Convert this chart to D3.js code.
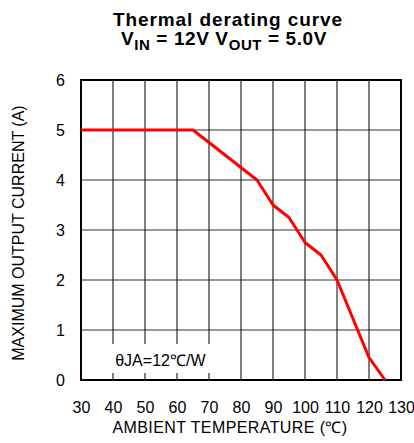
<!DOCTYPE html>
<html>
<head>
<meta charset="utf-8">
<script src="https://cdn.jsdelivr.net/npm/d3@7"></script>
<style>
  body { margin: 0; background: #fff; }
  svg { display: block; font-family: "Liberation Sans", Arial, sans-serif; }
</style>
</head>
<body>
<div id="chart"></div>
<script>
// derating curve
const tempC = [30, 65, 70, 85, 90, 95, 100, 105, 110, 120, 125];
const currentA = [5, 5, 4.75, 4, 3.5, 3.25, 2.75, 2.5, 2, 0.45, 0];
const xTicks = [30, 40, 50, 60, 70, 80, 90, 100, 110, 120, 130];
const yTicks = [0, 1, 2, 3, 4, 5, 6];

const W = 414, H = 443;
const margin = {top: 80, right: 13, bottom: 63, left: 81};
const width = W - margin.left - margin.right;
const height = H - margin.top - margin.bottom;

const svg = d3.select("#chart").append("svg")
  .attr("width", W)
  .attr("height", H);

const g = svg.append("g")
  .attr("transform", "translate(" + margin.left + "," + margin.top + ")");

const x = d3.scaleLinear().domain([30, 130]).range([0, width]);
const y = d3.scaleLinear().domain([0, 6]).range([height, 0]);

// grid
g.selectAll(".hgrid").data(yTicks.slice(1, -1)).enter().append("line")
  .attr("class", "hgrid")
  .attr("x1", 0).attr("x2", width)
  .attr("y1", d => y(d)).attr("y2", d => y(d))
  .attr("stroke", "#777").attr("stroke-width", 1.5);

g.selectAll(".vgrid").data(xTicks.slice(1, -1)).enter().append("line")
  .attr("class", "vgrid")
  .attr("x1", d => x(d)).attr("x2", d => x(d))
  .attr("y1", 0).attr("y2", height)
  .attr("stroke", "#000").attr("stroke-width", 1);

// note box covers the grid behind the text
g.append("rect")
  .attr("x", x(37.5)).attr("y", y(0.72))
  .attr("width", x(72) - x(37.5)).attr("height", y(0.14) - y(0.72))
  .attr("fill", "#fff");

g.append("text")
  .attr("x", x(54.8)).attr("y", y(0.39))
  .attr("dy", "0.35em")
  .attr("text-anchor", "middle")
  .style("font-size", "16px")
  .text("θJA=12℃/W");

// frame
g.append("rect")
  .attr("width", width).attr("height", height)
  .attr("fill", "none").attr("stroke", "#000").attr("stroke-width", 2);

// curve
const line = d3.line()
  .x((d, i) => x(tempC[i]))
  .y(d => y(d));

g.append("path")
  .datum(currentA)
  .attr("d", line)
  .attr("fill", "none")
  .attr("stroke", "#ff0000")
  .attr("stroke-width", 3)
  .attr("stroke-linejoin", "round");

// axes (labels only, no tick marks)
const xAxis = d3.axisBottom(x).tickValues(xTicks).tickSize(0).tickPadding(22);
const yAxis = d3.axisLeft(y).tickValues(yTicks).tickSize(0).tickPadding(16)
  .tickFormat(d3.format("d"));

g.append("g").attr("transform", "translate(0," + height + ")").call(xAxis)
  .call(a => a.select(".domain").remove())
  .selectAll("text").style("font-size", "16px").attr("fill", "#000")
  .style("font-family", "Liberation Sans, Arial, sans-serif");

g.append("g").call(yAxis)
  .call(a => a.select(".domain").remove())
  .selectAll("text").style("font-size", "16px").attr("fill", "#000")
  .style("font-family", "Liberation Sans, Arial, sans-serif");

// axis titles
svg.append("text")
  .attr("x", 230).attr("y", 433)
  .attr("text-anchor", "middle")
  .style("font-size", "16px")
  .style("letter-spacing", "0.4px")
  .text("AMBIENT TEMPERATURE (℃)");

svg.append("text")
  .attr("transform", "translate(24,233) rotate(-90)")
  .attr("text-anchor", "middle")
  .style("font-size", "16px")
  .text("MAXIMUM OUTPUT CURRENT (A)");

// title
svg.append("text")
  .attr("x", 228).attr("y", 26)
  .attr("text-anchor", "middle")
  .style("font-size", "19px").style("font-weight", "bold")
  .style("letter-spacing", "0.9px")
  .text("Thermal derating curve");

const t2 = svg.append("text")
  .attr("x", 224).attr("y", 45)
  .attr("text-anchor", "middle")
  .style("font-size", "19px").style("font-weight", "bold")
  .style("letter-spacing", "0.6px");
t2.append("tspan").text("V");
t2.append("tspan").attr("dy", 5).style("font-size", "15px").text("IN");
t2.append("tspan").attr("dy", -5).text(" = 12V V");
t2.append("tspan").attr("dy", 5).style("font-size", "15px").text("OUT");
t2.append("tspan").attr("dy", -5).text(" = 5.0V");
</script>
</body>
</html>
